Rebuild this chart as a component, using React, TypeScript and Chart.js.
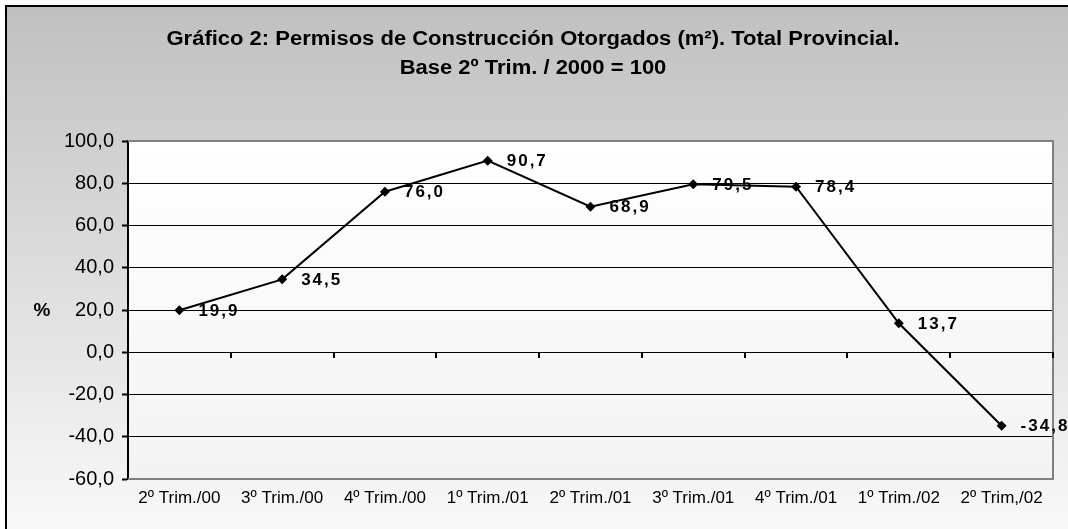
import React, { useEffect, useRef } from "react";
import { Chart, registerables } from "chart.js";

Chart.register(...registerables);

const categories = [
  "2º Trim./00",
  "3º Trim./00",
  "4º Trim./00",
  "1º Trim./01",
  "2º Trim./01",
  "3º Trim./01",
  "4º Trim./01",
  "1º Trim./02",
  "2º Trim,/02",
];
const values = [19.9, 34.5, 76.0, 90.7, 68.9, 79.5, 78.4, 13.7, -34.8];
const titleLines = [
  "Gráfico 2: Permisos de Construcción Otorgados (m²). Total Provincial.",
  "Base 2º Trim. / 2000 = 100",
];
const yAxisTitle = "%";
const yMin = -60;
const yMax = 100;
const yStep = 20;

const W = 1068;
const H = 529;
const FONT = "Arial, 'Liberation Sans', sans-serif";

function stretchedText(ctx: any, txt: string, x: number, y: number, sx: number) {
  ctx.save();
  ctx.translate(x, y);
  ctx.scale(sx, 1);
  ctx.fillText(txt, 0, 0);
  ctx.restore();
}

const decorPlugin = {
  id: "decor",
  beforeDraw(chart: any) {
    const ctx = chart.ctx;
    const ca = chart.chartArea;
    ctx.save();
    ctx.fillStyle = "#ffffff";
    ctx.fillRect(0, 0, W, H);
    const g = ctx.createLinearGradient(0, 6, 0, H);
    g.addColorStop(0, "#c0c0c0");
    g.addColorStop(1, "#f9f9f9");
    ctx.fillStyle = g;
    ctx.fillRect(6, 6, W - 6, H - 6);
    ctx.strokeStyle = "#000000";
    ctx.lineWidth = 2;
    ctx.beginPath();
    ctx.moveTo(6, H);
    ctx.lineTo(6, 6);
    ctx.lineTo(W, 6);
    ctx.stroke();
    const pg = ctx.createLinearGradient(0, ca.top, 0, ca.bottom);
    pg.addColorStop(0, "#ffffff");
    pg.addColorStop(1, "#f3f3f3");
    ctx.fillStyle = pg;
    ctx.fillRect(ca.left, ca.top, ca.right - ca.left, ca.bottom - ca.top);
    // title
    ctx.fillStyle = "#000000";
    ctx.textAlign = "center";
    ctx.textBaseline = "middle";
    ctx.font = `bold 20px ${FONT}`;
    stretchedText(ctx, titleLines[0], 533, 39, 1.1);
    stretchedText(ctx, titleLines[1], 533, 68, 1.1);
    // y axis title
    ctx.font = `bold 19px ${FONT}`;
    ctx.fillText(yAxisTitle, 42, (ca.top + ca.bottom) / 2 + 1);
    ctx.restore();
  },
  beforeDatasetsDraw(chart: any) {
    const ctx = chart.ctx;
    const ca = chart.chartArea;
    const xs = chart.scales.x;
    const ys = chart.scales.y;
    ctx.save();
    ctx.strokeStyle = "#808080";
    ctx.lineWidth = 2;
    ctx.beginPath();
    ctx.moveTo(ca.left, ca.top);
    ctx.lineTo(ca.right, ca.top);
    ctx.lineTo(ca.right, ca.bottom);
    ctx.lineTo(ca.left, ca.bottom);
    ctx.stroke();
    // tick marks on zero line at category boundaries
    const y0 = Math.round(ys.getPixelForValue(0));
    const step = xs.getPixelForValue(1) - xs.getPixelForValue(0);
    ctx.strokeStyle = "#000000";
    ctx.lineWidth = 2;
    ctx.beginPath();
    for (let i = 0; i < categories.length; i++) {
      const bx = Math.round(xs.getPixelForValue(i) + step / 2);
      ctx.moveTo(bx, y0);
      ctx.lineTo(bx, y0 + 6);
    }
    ctx.stroke();
    ctx.restore();
  },
  afterDatasetsDraw(chart: any) {
    const ctx = chart.ctx;
    const meta = chart.getDatasetMeta(0);
    ctx.save();
    ctx.fillStyle = "#000000";
    ctx.textAlign = "left";
    ctx.textBaseline = "middle";
    ctx.font = `bold 17px ${FONT}`;
    try {
      (ctx as any).letterSpacing = "2px";
    } catch (e) {}
    meta.data.forEach((pt: any, i: number) => {
      const txt = values[i].toFixed(1).replace(".", ",");
      ctx.fillText(txt, pt.x + 19, pt.y + 1);
    });
    ctx.restore();
  },
};

export default function App() {
  const ref = useRef<HTMLCanvasElement | null>(null);
  useEffect(() => {
    if (!ref.current) return;
    const chart = new Chart(ref.current, {
      type: "line",
      data: {
        labels: categories,
        datasets: [
          {
            data: values,
            borderColor: "#000000",
            borderWidth: 2,
            backgroundColor: "#000000",
            pointStyle: "rectRot",
            pointRadius: 5,
            pointBackgroundColor: "#000000",
            pointBorderColor: "#000000",
            pointBorderWidth: 0,
            tension: 0,
            fill: false,
          },
        ],
      },
      options: {
        responsive: false,
        animation: false,
        events: [],
        layout: { padding: { top: 141, right: 15, bottom: 0, left: 0 } },
        plugins: {
          legend: { display: false },
          title: { display: false },
          tooltip: { enabled: false },
        },
        scales: {
          x: {
            type: "category",
            offset: true,
            grid: { display: false, drawTicks: false },
            border: { display: false },
            ticks: {
              color: "#000000",
              font: { family: FONT, size: 17 },
              padding: 9,
              maxRotation: 0,
              autoSkip: false,
            },
            afterFit(scale: any) {
              scale.height = 50;
            },
          },
          y: {
            min: yMin,
            max: yMax,
            grid: {
              color: (c: any) =>
                c.tick && (c.tick.value === yMin || c.tick.value === yMax)
                  ? "rgba(0,0,0,0)"
                  : "#000000",
              lineWidth: 1,
              drawTicks: true,
              tickLength: 6,
              tickColor: "#000000",
              tickWidth: 2,
            },
            border: { display: true, color: "#000000", width: 2 },
            ticks: {
              stepSize: yStep,
              color: "#000000",
              font: { family: FONT, size: 20 },
              padding: 8,
              callback: (v: any) => Number(v).toFixed(1).replace(".", ","),
            },
            afterFit(scale: any) {
              scale.width = 128;
            },
          },
        },
      },
      plugins: [decorPlugin],
    });
    return () => chart.destroy();
  }, []);
  return (
    <div style={{ position: "fixed", left: 0, top: 0, width: W, height: H }}>
      <canvas ref={ref} width={W} height={H} style={{ display: "block" }} />
    </div>
  );
}
